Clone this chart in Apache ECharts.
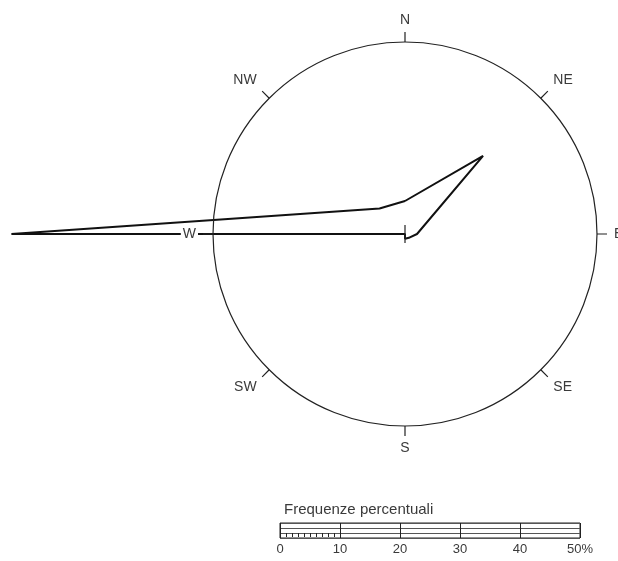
<!DOCTYPE html>
<html>
<head>
<meta charset="utf-8">
<script src="https://cdn.jsdelivr.net/npm/echarts@6/dist/echarts.min.js"></script>
<style>
  html, body { margin: 0; padding: 0; background: #fff; }
  #main { width: 618px; height: 561px; }
</style>
</head>
<body>
<div id="main"></div>
<script>
var myChart = echarts.init(document.getElementById('main'));

// direzioni della rosa, in senso orario da N (gradi)
var directions = ['N', 'NE', 'E', 'SE', 'S', 'SW', 'W', 'NW'];
var directionAngles = [0, 45, 90, 135, 180, 225, 270, 315];
// frequenze percentuali per direzione
var frequencies = [5.5, 18.4, 2.0, 0.9, 0.8, 0, 65.6, 6.0];
// etichette della scala
var scaleTicks = [0, 10, 20, 30, 40, 50];
var scaleTitle = 'Frequenze percentuali';

var textColor = '#3a3a3a';
var lineColor = '#222';
var center = [405, 234];
var pxPerUnit = 6;          // 6 px = 1 %
var circleValue = 32;       // cerchio di riferimento
var outerValue = 70;        // polare nascosta: il poligono esce dal cerchio

// poligono chiuso: si ripete il primo punto a 360 gradi
var roseData = directions.map(function (d, i) {
    return [frequencies[i], directionAngles[i]];
});
roseData.push([frequencies[0], 360]);

var option = {
    animation: false,
    backgroundColor: '#fff',
    title: {
        text: scaleTitle,
        left: 279,
        top: 497,
        textStyle: {
            fontFamily: 'Liberation Sans',
            fontSize: 15,
            fontWeight: 'normal',
            color: textColor
        }
    },
    polar: [
        { center: center, radius: circleValue * pxPerUnit },
        { center: center, radius: outerValue * pxPerUnit }
    ],
    angleAxis: [
        {
            polarIndex: 0,
            type: 'value',
            min: 0,
            max: 360,
            interval: 45,
            startAngle: 90,
            clockwise: true,
            z: 10,
            axisLine: { lineStyle: { color: lineColor, width: 1.2 } },
            axisTick: { show: true, length: 10, lineStyle: { color: lineColor, width: 1.2 } },
            axisLabel: {
                margin: 15,
                fontFamily: 'Liberation Sans',
                fontSize: 14,
                color: textColor,
                backgroundColor: '#fff',
                padding: [0, 2],
                formatter: function (v) {
                    var i = directionAngles.indexOf(v);
                    return i < 0 ? '' : directions[i];
                }
            },
            splitLine: { show: false }
        },
        {
            polarIndex: 1,
            type: 'value',
            min: 0,
            max: 360,
            startAngle: 90,
            clockwise: true,
            show: false
        }
    ],
    radiusAxis: [
        { polarIndex: 0, min: 0, max: circleValue, show: false },
        { polarIndex: 1, min: 0, max: outerValue, show: false }
    ],
    // barra della scala (0-50%)
    grid: [
        { left: 280, top: 523, width: 300, height: 15, show: true, borderColor: lineColor, borderWidth: 1 },
        { left: 280, top: 528, width: 60, height: 5 }
    ],
    xAxis: [
        {
            gridIndex: 0,
            type: 'value',
            min: scaleTicks[0],
            max: scaleTicks[scaleTicks.length - 1],
            interval: 10,
            axisLine: { show: false },
            axisTick: { show: false },
            splitLine: { show: true, lineStyle: { color: lineColor, width: 1 } },
            axisLabel: {
                margin: 5,
                fontFamily: 'Liberation Sans',
                fontSize: 13,
                color: textColor,
                formatter: function (v) {
                    return v === scaleTicks[scaleTicks.length - 1] ? v + '%' : String(v);
                }
            }
        },
        {
            gridIndex: 1,
            type: 'value',
            min: 0,
            max: 10,
            interval: 1,
            position: 'top',
            axisLine: { show: false },
            axisTick: { show: true, inside: true, length: 4, lineStyle: { color: lineColor } },
            axisLabel: { show: false },
            splitLine: { show: false }
        }
    ],
    yAxis: [
        {
            gridIndex: 0,
            type: 'value',
            min: 0,
            max: 3,
            interval: 1,
            axisLine: { show: false },
            axisTick: { show: false },
            axisLabel: { show: false },
            splitLine: { show: true, lineStyle: { color: '#555', width: 1 } }
        },
        {
            gridIndex: 1,
            type: 'value',
            min: 0,
            max: 1,
            show: false
        }
    ],
    series: [
        {
            type: 'line',
            coordinateSystem: 'polar',
            polarIndex: 1,
            data: roseData,
            symbol: 'none',
            lineStyle: { color: '#111', width: 2 },
            z: 2
        },
        {
            // segno del centro
            type: 'scatter',
            coordinateSystem: 'polar',
            polarIndex: 1,
            data: [[0, 0]],
            symbol: 'rect',
            symbolSize: [1.5, 18],
            itemStyle: { color: lineColor },
            silent: true,
            z: 3
        }
    ]
};

myChart.setOption(option);
</script>
</body>
</html>
